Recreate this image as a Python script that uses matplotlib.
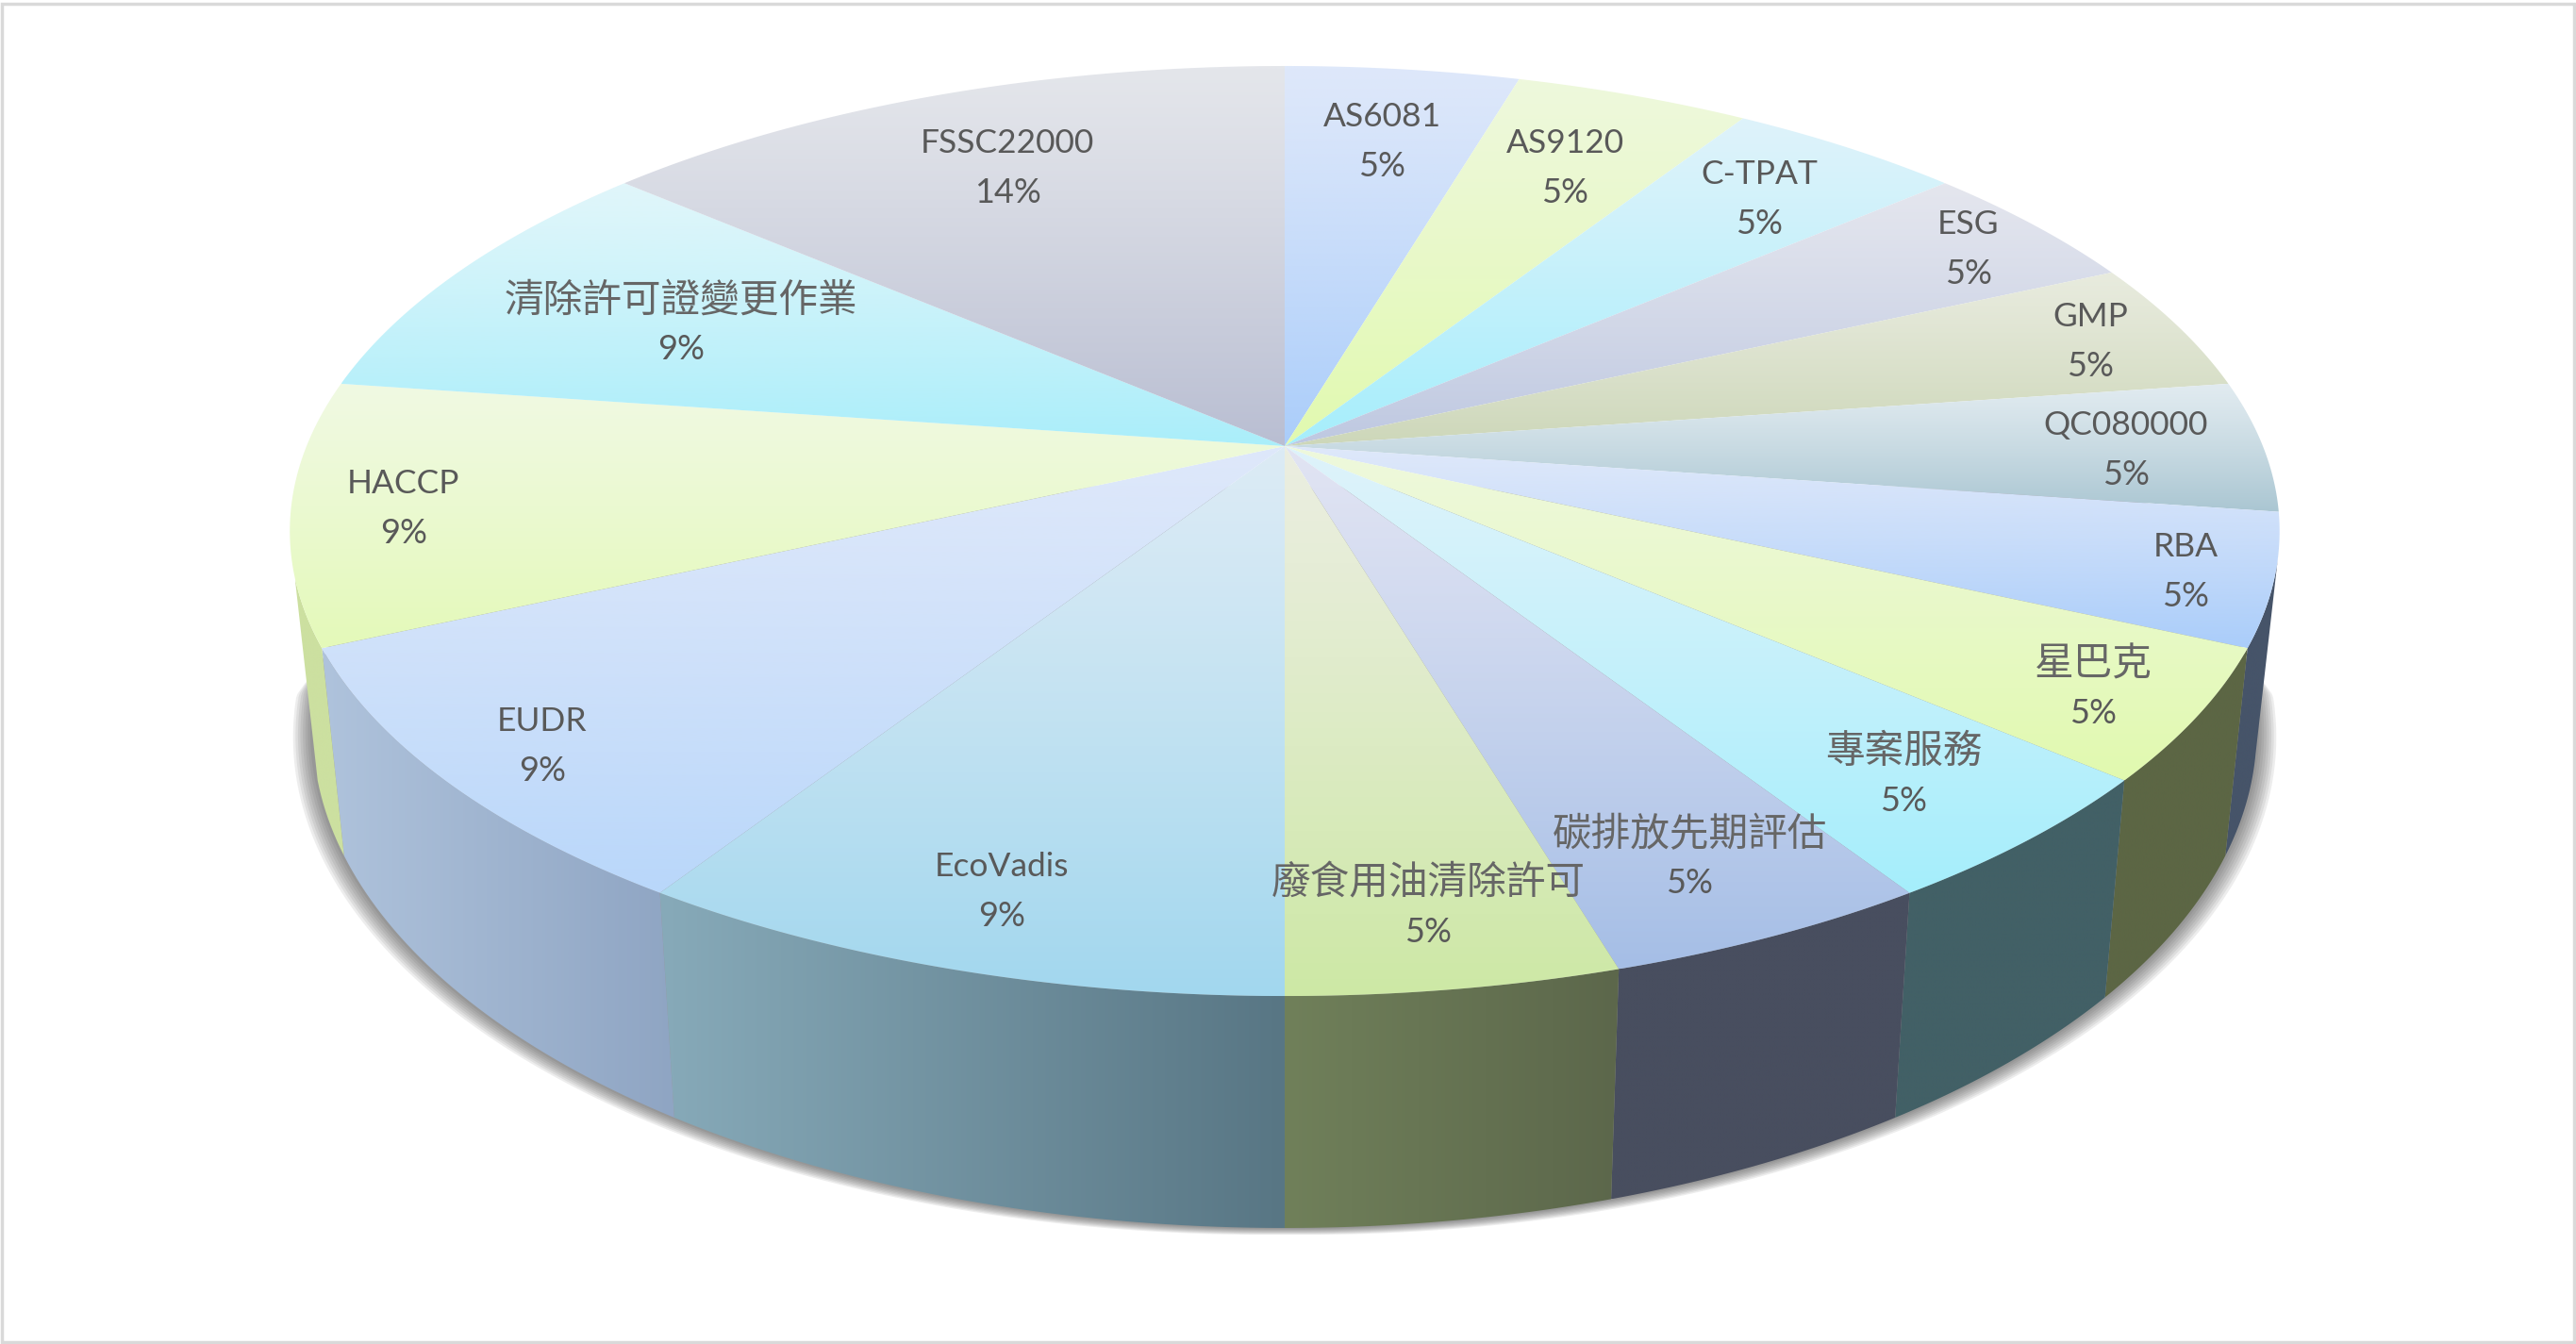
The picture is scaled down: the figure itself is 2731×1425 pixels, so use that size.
import numpy as np
import matplotlib
matplotlib.use("Agg")
import matplotlib.pyplot as plt
from matplotlib.colors import LinearSegmentedColormap
from matplotlib.patches import Polygon, Rectangle

plt.rcParams['font.family'] = ['Lato', 'Noto Sans CJK TC', 'DejaVu Sans']

categories = ['AS6081', 'AS9120', 'C-TPAT', 'ESG', 'GMP', 'QC080000', 'RBA', '星巴克',
              '專案服務', '碳排放先期評估', '廢食用油清除許可', 'EcoVadis', 'EUDR', 'HACCP',
              '清除許可證變更作業', 'FSSC22000']
values = [1, 1, 1, 1, 1, 1, 1, 1, 1, 1, 1, 2, 2, 2, 2, 3]

# gradient of the top face, far edge then near edge
top_light = ['#DEE8FA', '#EEF8DC', '#DEF3FA', '#E4E6EE', '#E8EBDE', '#E1EBF0', '#DEE8FA', '#EEF8DC',
             '#DEF3FA', '#E1E4F3', '#EBEEE1', '#DCEBF5', '#DEE8FA', '#F0F9E2', '#E0F6FA', '#E4E6EB']
top_deep = ['#AACDFA', '#E1FAAF', '#A5EEFC', '#BEC8E1', '#CDD7B9', '#AAC6D2', '#AACDFA', '#E1FAAF',
            '#A5EEFC', '#A5BEE6', '#CDE8A5', '#A2D7EE', '#B9D7FA', '#E4FAB9', '#AAEEFA', '#B9BED2']

# side wall, left then right on screen. None = wall faces away
side_left = [None, None, None, None, None, None, '#465469', '#5C6644',
             '#426066', '#484E5F', '#70805A', '#87AAB9', '#AFC3DC', '#CCE0A0', None, None]
side_right = [None, None, None, None, None, None, '#465469', '#5C6644',
              '#426066', '#484E5F', '#5C674B', '#587684', '#8FA5C3', '#CCE0A0', None, None]

# label centres on the canvas (name line)
label_x = [1465, 1659, 1865, 2087, 2216, 2254, 2317, 2219, 2018, 1791, 1514, 1062, 575, 428, 722, 1068]
label_y = [124, 152, 185, 238, 336, 451, 580, 704, 797, 884, 936, 919, 765, 513, 318, 152]

CX, CY = 1362, 473
A, B, K = 1037, 476.6, 0.1826
TEXT_COLOR = '#595959'
CJK_COLOR = '#666666'


def project(theta, r=1.0):
    x = r * np.sin(theta)
    y = r * np.cos(theta)
    w = 1 + K * y
    return CX + A * x / w, CY - B * y / w


def project_low(theta):
    sx, sy = project(theta)
    return CX + 0.977 * (sx - CX), 1.07 * sy + 172


def gradient_fill(ax, xs, ys, c1, c2, vertical=True, zorder=2):
    cmap = LinearSegmentedColormap.from_list('g', [c1, c2])
    grad = np.linspace(0, 1, 256)
    if vertical:
        grad = (grad ** 1.15).reshape(-1, 1)
    else:
        grad = grad.reshape(1, -1)
    im = ax.imshow(grad, cmap=cmap, vmin=0, vmax=1, extent=[xs.min(), xs.max(), ys.max(), ys.min()],
                   aspect='auto', zorder=zorder, interpolation='bilinear')
    poly = Polygon(np.column_stack([xs, ys]), closed=True, transform=ax.transData)
    im.set_clip_path(poly)


fig = plt.figure(figsize=(27.31, 14.25), dpi=100, facecolor='white')
ax = fig.add_axes([0, 0, 1, 1])

total = sum(values)
edges = np.cumsum([0] + values) / total * 2 * np.pi

# soft shadow under the wall, it grows out from behind the wall on both sides
ring = np.linspace(np.radians(70), np.radians(290), 500)
rx, ry = project_low(ring)
ramp = np.clip((ry - 690) / 40, 0, 1)
for i in range(8, 0, -1):
    sx = rx + np.sign(rx - CX) * i * 2.6 * ramp
    sy = ry + i * 0.9
    ax.fill(sx, sy, color='#404040', alpha=0.09, lw=0, zorder=1)

# walls
for i in range(len(values)):
    if side_left[i] is None:
        continue
    t = np.linspace(edges[i], edges[i + 1], 40)
    # only the part of the wall that faces the viewer
    t = t[(t > np.radians(103)) & (t < np.radians(254))]
    x1, y1 = project(t)
    x2, y2 = project_low(t)
    xs = np.concatenate([x1, x2[::-1]])
    ys = np.concatenate([y1, y2[::-1]])
    gradient_fill(ax, xs, ys, side_left[i], side_right[i], vertical=False, zorder=2)

# top face
for i in range(len(values)):
    t = np.linspace(edges[i], edges[i + 1], 60)
    x1, y1 = project(t)
    xs = np.concatenate([[CX], x1])
    ys = np.concatenate([[CY], y1])
    gradient_fill(ax, xs, ys, top_light[i], top_deep[i], zorder=3)

# labels
for i, name in enumerate(categories):
    cjk = not name.isascii()
    ax.text(label_x[i], label_y[i], name, ha='center', va='center',
            color=CJK_COLOR if cjk else TEXT_COLOR, fontsize=30 if cjk else 25.5, zorder=5)
    ax.text(label_x[i], label_y[i] + 52, f'{values[i] / total:.0%}', ha='center', va='center',
            color=TEXT_COLOR, fontsize=26, zorder=5)

ax.add_patch(Rectangle((2, 4), 2727, 1419, fill=False, edgecolor='#D9D9D9', lw=2.5, zorder=6))

ax.set_xlim(0, 2731)
ax.set_ylim(1425, 0)
ax.axis('off')
fig.savefig('out.png', dpi=100, facecolor='white')
